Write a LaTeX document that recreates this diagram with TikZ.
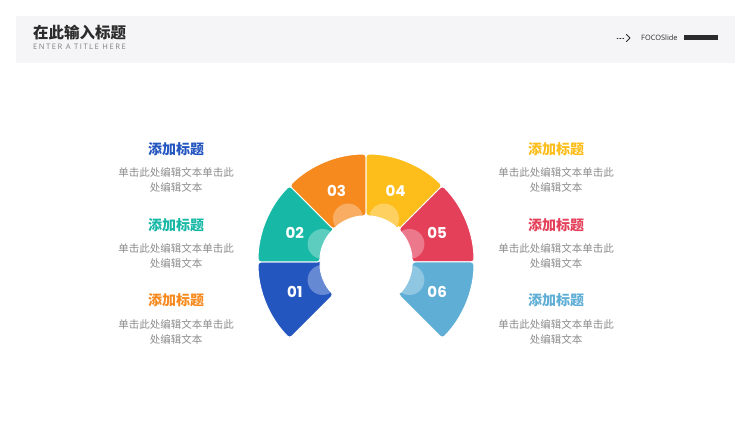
\documentclass[tikz,border=0pt]{standalone}
\usepackage{fontspec}
\setmainfont{Open Sans}
\newfontfamily\cjk{Noto Sans CJK SC}
\newfontfamily\numfont{Poppins}
\usetikzlibrary{calc}
\definecolor{segA}{HTML}{2456C0}
\definecolor{segB}{HTML}{17B8A6}
\definecolor{segC}{HTML}{F68A1F}
\definecolor{segD}{HTML}{FDBD1B}
\definecolor{segE}{HTML}{E4405A}
\definecolor{segF}{HTML}{5FAED6}
\definecolor{bandgray}{HTML}{F5F5F7}
\definecolor{txtgray}{HTML}{8C8C8C}
\definecolor{inkblack}{HTML}{2B2B2B}

\begin{document}
\begin{tikzpicture}[line cap=round,line join=round,x=1pt,y=1pt,
  ttl/.style={font=\cjk\bfseries\fontsize{14}{16}\selectfont,inner sep=0},
  txt/.style={font=\cjk\fontsize{10.5}{15}\selectfont,text=txtgray,align=center,inner sep=0},
  num/.style={font=\numfont\bfseries\fontsize{15}{15}\selectfont,text=white,inner sep=0}]
\useasboundingbox (0,0) rectangle (750,422);
% header band
\fill[bandgray] (16,359) rectangle (735,406);
\node[anchor=west,inner sep=0,text=inkblack,font=\cjk\bfseries\fontsize{15.5}{16}\selectfont] (title) at (33,389) {在此输入标题};
\node[anchor=west,inner sep=0,text=gray,font=\fontsize{7.6}{8}\selectfont\addfontfeature{LetterSpace=20}] (subtitle) at (33,375.5) {ENTER A TITLE HERE};
\draw[dotted,line width=0.9pt,inkblack] (617,384) -- (625,384);
\draw[line width=0.8pt,inkblack] (626.5,387.5) -- (630,384) -- (626.5,380.5);
\node[anchor=west,inner sep=0,text=inkblack,font=\fontsize{7.4}{8}\selectfont] (brand) at (641,384) {FOCOSlide};
\fill[inkblack] (684,382) rectangle (718,386.5);
% fan of six segments
\begin{scope}[shift={(366,160)}]
\foreach \i/\c in {1/segA,2/segB,3/segC,4/segD,5/segE,6/segF} {
  \pgfmathsetmacro\a{225-45*\i}
  \filldraw[fill=\c,draw=white,line width=1pt,rounded corners=3pt]
    (\a:46pt) -- (\a:108pt) arc[start angle=\a,end angle=\a+45,radius=108pt]
    -- ({\a+45}:46pt) arc[start angle=\a+45,end angle=\a,radius=46pt] -- cycle;
  \fill[white,opacity=0.3] ({\a+22.5}:47pt) circle (15pt);
}
\fill[white] (0,0) circle (45pt);
\foreach \i in {1,...,6} {
  \pgfmathsetmacro\a{225-45*\i+22.5}
  \node[num] (n\i) at (\a:77pt) {0\i};
}
\end{scope}
% left column
\node[ttl,text=segA] (t1) at (176,273) {添加标题};
\node[txt] (d1) at (176,242.5) {单击此处编辑文本单击此\\处编辑文本};
\node[ttl,text=segB] (t2) at (176,197) {添加标题};
\node[txt] (d2) at (176,166.5) {单击此处编辑文本单击此\\处编辑文本};
\node[ttl,text=segC] (t3) at (176,122) {添加标题};
\node[txt] (d3) at (176,90.5) {单击此处编辑文本单击此\\处编辑文本};
% right column
\node[ttl,text=segD] (t4) at (556,273) {添加标题};
\node[txt] (d4) at (556,242.5) {单击此处编辑文本单击此\\处编辑文本};
\node[ttl,text=segE] (t5) at (556,197) {添加标题};
\node[txt] (d5) at (556,166.5) {单击此处编辑文本单击此\\处编辑文本};
\node[ttl,text=segF] (t6) at (556,122) {添加标题};
\node[txt] (d6) at (556,90.5) {单击此处编辑文本单击此\\处编辑文本};
\end{tikzpicture}
\end{document}
